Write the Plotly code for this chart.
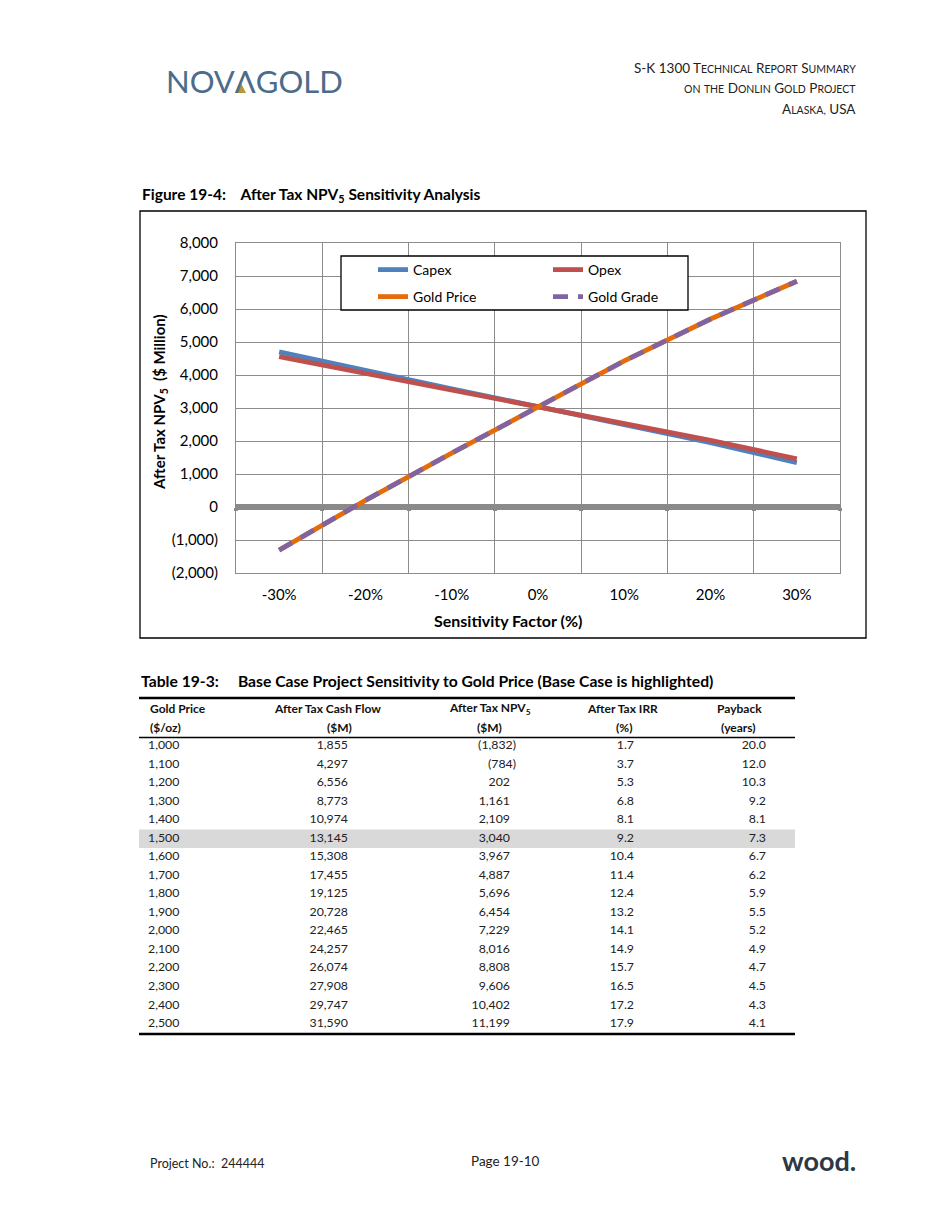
import plotly.graph_objects as go

# ---------------- chart data ----------------
sensitivity = [-30, -20, -10, 0, 10, 20, 30]
x_tick_labels = ["-30%", "-20%", "-10%", "0%", "10%", "20%", "30%"]
capex = [4700, 4130, 3580, 3040, 2490, 1950, 1340]
opex = [4560, 4050, 3540, 3040, 2530, 2020, 1460]
gold_price = [-1308, 202, 1635, 3040, 4427, 5696, 6842]
gold_grade = [-1308, 202, 1635, 3040, 4427, 5696, 6842]
y_tick_vals = [-2000, -1000, 0, 1000, 2000, 3000, 4000, 5000, 6000, 7000, 8000]
y_tick_labels = ["(2,000)", "(1,000)", "0", "1,000", "2,000", "3,000", "4,000",
                 "5,000", "6,000", "7,000", "8,000"]

# ---------------- table data ----------------
header_top = ["Gold Price", "After Tax Cash Flow", "After Tax NPV<sub>5</sub>", "After Tax IRR", "Payback"]
header_bottom = ["($/oz)", "($M)", "($M)", "(%)", "(years)"]
tbl_gold_price = [1000, 1100, 1200, 1300, 1400, 1500, 1600, 1700, 1800, 1900,
                  2000, 2100, 2200, 2300, 2400, 2500]
tbl_cash_flow = [1855, 4297, 6556, 8773, 10974, 13145, 15308, 17455, 19125, 20728,
                 22465, 24257, 26074, 27908, 29747, 31590]
tbl_npv5 = [-1832, -784, 202, 1161, 2109, 3040, 3967, 4887, 5696, 6454,
            7229, 8016, 8808, 9606, 10402, 11199]
tbl_irr = [1.7, 3.7, 5.3, 6.8, 8.1, 9.2, 10.4, 11.4, 12.4, 13.2, 14.1, 14.9, 15.7, 16.5, 17.2, 17.9]
tbl_payback = [20.0, 12.0, 10.3, 9.2, 8.1, 7.3, 6.7, 6.2, 5.9, 5.5, 5.2, 4.9, 4.7, 4.5, 4.3, 4.1]
base_case_price = 1500

W, H = 950, 1229
FONT = "Lato"
NB = "\u00a0"


def px(x):
    return x / W


def py(y):
    return 1 - y / H


def acct(v):
    return f"({abs(v):,})" if v < 0 else f"{v:,}"


fig = go.Figure()

# ---------------- chart traces ----------------
series = [
    ("Capex", capex, "#4F81BD", "solid", "legend"),
    ("Opex", opex, "#C0504D", "solid", "legend"),
    ("Gold Price", gold_price, "#E46C0A", "solid", "legend2"),
    ("Gold Grade", gold_grade, "#8064A2", "15px,10px", "legend2"),
]
for name, vals, color, dash, leg in series:
    fig.add_trace(go.Scatter(
        x=sensitivity, y=vals, name=name, mode="lines",
        line=dict(color=color, width=4.8, dash=dash),
        legend=leg, xaxis="x", yaxis="y",
    ))

# empty trace that carries the tick marks drawn on the zero axis line
fig.add_trace(go.Scatter(x=[], y=[], xaxis="x2", yaxis="y", showlegend=False, hoverinfo="skip"))

# ---------------- table (text traces on a page-coordinate axis pair) ----------------
row_top, row_step = 746, (1024 - 746) / 15
row_y = [row_top + i * row_step for i in range(len(tbl_gold_price))]
tfont = dict(family=FONT, size=12.3, color="#222222")

col_specs = [
    ([f"{v:,}" for v in tbl_gold_price], [148] * len(row_y), "middle right"),
    ([f"{v:,}" for v in tbl_cash_flow], [348] * len(row_y), "middle left"),
    ([acct(v) for v in tbl_npv5], [516 if v < 0 else 510 for v in tbl_npv5], "middle left"),
    ([f"{v:.1f}" for v in tbl_irr], [634] * len(row_y), "middle left"),
    ([f"{v:.1f}" for v in tbl_payback], [766] * len(row_y), "middle left"),
]
for texts, xs, pos in col_specs:
    fig.add_trace(go.Scatter(
        x=xs, y=row_y, text=texts, mode="text", textposition=pos,
        textfont=tfont, showlegend=False, xaxis="x3", yaxis="y3",
        hoverinfo="skip", cliponaxis=False,
    ))

hfont = dict(family=FONT, size=12, color="#111111", weight="bold")
top_x = [148, 327, 490, 622, 739]
bot_x = [148, 339, 489, 624, 738]
for i in range(len(header_top)):
    for txt, xx, yy in ((header_top[i], top_x[i], 708), (header_bottom[i], bot_x[i], 727)):
        fig.add_annotation(
            x=xx, y=yy, xref="x3", yref="y3", text=txt, showarrow=False,
            xanchor="left" if i == 0 else "center", yanchor="middle", font=hfont,
        )

# highlighted base case row + rules
b_idx = tbl_gold_price.index(base_case_price)
fig.add_shape(type="rect", xref="x3", yref="y3", x0=139, x1=795,
              y0=row_y[b_idx] - row_step / 2, y1=row_y[b_idx] + row_step / 2,
              fillcolor="#D9D9D9", line=dict(width=0), layer="below")
for yy, lw in ((698, 2.5), (737.5, 1.5), (1034, 2.5)):
    fig.add_shape(type="line", xref="x3", yref="y3", x0=139, x1=795, y0=yy, y1=yy,
                  line=dict(color="black", width=lw))

# chart border
fig.add_shape(type="rect", xref="x3", yref="y3", x0=140, x1=866, y0=211, y1=638,
              line=dict(color="black", width=1.3))
# legend box
fig.add_shape(type="rect", xref="x3", yref="y3", x0=341, x1=688, y0=256, y1=310,
              line=dict(color="black", width=1.3), fillcolor="white", layer="above")

# ---------------- page texts ----------------
hdr_lines = ["S-K 1300 Technical Report Summary", "on the Donlin Gold Project", "Alaska, USA"]
for txt, yy in zip(hdr_lines, [68, 88, 109]):
    words = []
    for w in txt.split(" "):
        if w[0].islower():
            words.append(f"<span style='font-size:10.5px'>{w.upper()}</span>")
        elif len(w) > 1 and w[1:].rstrip(",").islower():
            words.append(w[0] + f"<span style='font-size:10.5px'>{w[1:].upper()}</span>")
        else:
            words.append(w)
    fig.add_annotation(x=858, y=yy, xref="x3", yref="y3", text=" ".join(words),
                       showarrow=False, xanchor="right", yanchor="middle",
                       font=dict(family=FONT, size=13.5, color="#222222"))

# logo
fig.add_annotation(x=164, y=81, xref="x3", yref="y3", text="NOV\u039bGOLD", showarrow=False,
                   xanchor="left", yanchor="middle",
                   font=dict(family=FONT, size=31, color="#4B6C8A"))
fig.add_shape(type="path", xref="x3", yref="y3", path="M 237 93 L 241.5 84 L 246 93 Z",
              fillcolor="#B8963A", line=dict(width=0))

fig.add_annotation(x=140, y=195, xref="x3", yref="y3",
                   text="Figure 19-4:" + NB * 4 + "After Tax NPV<sub>5</sub> Sensitivity Analysis",
                   showarrow=False, xanchor="left", yanchor="middle",
                   font=dict(family=FONT, size=15.5, color="black", weight="bold"))
fig.add_annotation(x=139, y=681, xref="x3", yref="y3",
                   text="Table 19-3:" + NB * 5 + "Base Case Project Sensitivity to Gold Price (Base Case is highlighted)",
                   showarrow=False, xanchor="left", yanchor="middle",
                   font=dict(family=FONT, size=15.7, color="black", weight="bold"))
fig.add_annotation(x=160, y=402, xref="x3", yref="y3",
                   text="After Tax NPV<sub>5</sub>" + NB * 2 + "($ Million)", textangle=-90,
                   showarrow=False, xanchor="center", yanchor="middle",
                   font=dict(family=FONT, size=15, color="black", weight="bold"))
fig.add_annotation(x=508, y=620, xref="x3", yref="y3", text="Sensitivity Factor (%)",
                   showarrow=False, xanchor="center", yanchor="middle",
                   font=dict(family=FONT, size=16, color="black", weight="bold"))

# footer
fig.add_annotation(x=148, y=1163, xref="x3", yref="y3", text="Project No.:" + NB * 2 + "244444",
                   showarrow=False, xanchor="left", yanchor="middle",
                   font=dict(family=FONT, size=12.5, color="#222222"))
fig.add_annotation(x=505, y=1161, xref="x3", yref="y3", text="Page 19-10",
                   showarrow=False, xanchor="center", yanchor="middle",
                   font=dict(family=FONT, size=13.5, color="#222222"))
fig.add_annotation(x=858, y=1160, xref="x3", yref="y3", text="wood.",
                   showarrow=False, xanchor="right", yanchor="middle",
                   font=dict(family=FONT, size=27, color="#2C3845", weight="bold"))

grid_col = "#8C8C8C"
y_dom = [py(573), py(243)]
y_rng = [-2000, 8000]
zero_pos = y_dom[0] + (0 - y_rng[0]) / (y_rng[1] - y_rng[0]) * (y_dom[1] - y_dom[0])
boundaries = [s - 5 for s in sensitivity] + [sensitivity[-1] + 5]

fig.update_layout(
    width=W, height=H, margin=dict(l=0, r=0, t=0, b=0, pad=0, autoexpand=False),
    paper_bgcolor="white", plot_bgcolor="rgba(0,0,0,0)",
    font=dict(family=FONT, color="black"),
    xaxis=dict(
        domain=[px(236), px(840)], range=[-35, 35], anchor="y",
        tickvals=sensitivity, ticktext=x_tick_labels, showgrid=False,
        minor=dict(tickvals=boundaries, showgrid=True, gridcolor=grid_col, gridwidth=1),
        showline=True, mirror=True, linecolor=grid_col, linewidth=1,
        ticks="", ticklabelstandoff=8, tickfont=dict(family=FONT, size=15, color="black"),
        zeroline=False, fixedrange=True, automargin=False,
    ),
    xaxis2=dict(
        domain=[px(236), px(840)], range=[-35, 35], overlaying="x", anchor="free",
        position=zero_pos, side="bottom", tickvals=boundaries, showticklabels=False,
        ticks="outside", ticklen=3, tickwidth=4, tickcolor="#8A8A8A",
        showgrid=False, zeroline=False, showline=False, fixedrange=True, automargin=False,
    ),
    yaxis=dict(
        domain=y_dom, range=y_rng, anchor="x",
        tickvals=y_tick_vals, ticktext=y_tick_labels, showgrid=True,
        gridcolor=grid_col, gridwidth=1,
        showline=True, mirror=True, linecolor=grid_col, linewidth=1,
        zeroline=True, zerolinecolor="#8A8A8A", zerolinewidth=5.5,
        ticks="", ticklabelstandoff=14, tickfont=dict(family=FONT, size=15, color="black"),
        fixedrange=True, automargin=False,
    ),
    xaxis3=dict(domain=[0, 1], range=[0, W], visible=False, anchor="y3", fixedrange=True),
    yaxis3=dict(domain=[0, 1], range=[H, 0], visible=False, anchor="x3", fixedrange=True),
    legend=dict(orientation="h", x=px(373), y=py(270), xanchor="left", yanchor="middle",
                entrywidth=130, entrywidthmode="pixels", bgcolor="rgba(0,0,0,0)",
                font=dict(family=FONT, size=14, color="black"), borderwidth=0),
    legend2=dict(orientation="h", x=px(373), y=py(297), xanchor="left", yanchor="middle",
                 entrywidth=130, entrywidthmode="pixels", bgcolor="rgba(0,0,0,0)",
                 font=dict(family=FONT, size=14, color="black"), borderwidth=0),
    showlegend=True,
)

fig.write_html("out.html", config={"displayModeBar": False},
               post_script="document.body.style.margin='0';")
